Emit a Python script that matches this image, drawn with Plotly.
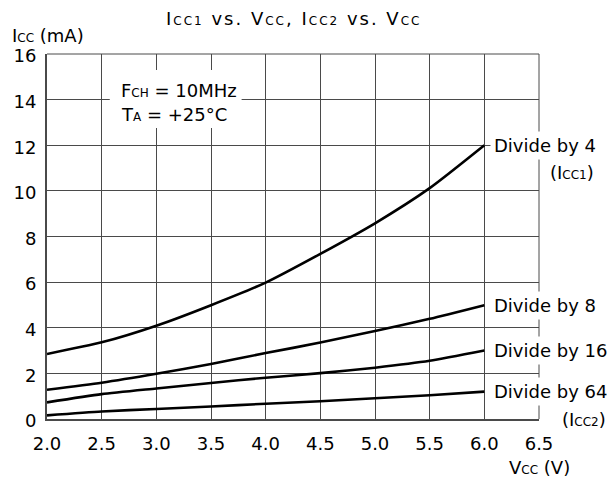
import plotly.graph_objects as go

# Data
vcc = [2.0, 2.5, 3.0, 3.5, 4.0, 4.5, 5.0, 5.5, 6.0]
div4 = [2.85, 3.36, 4.09, 4.99, 5.98, 7.24, 8.58, 10.12, 12.0]
div8 = [1.28, 1.59, 1.98, 2.41, 2.89, 3.35, 3.86, 4.39, 4.99]
div16 = [0.73, 1.09, 1.34, 1.58, 1.81, 2.01, 2.25, 2.55, 3.0]
div64 = [0.16, 0.33, 0.44, 0.55, 0.67, 0.78, 0.91, 1.04, 1.2]
series_labels = ["Divide by 4", "Divide by 8", "Divide by 16", "Divide by 64"]
x_ticks = [2.0, 2.5, 3.0, 3.5, 4.0, 4.5, 5.0, 5.5, 6.0, 6.5]
y_ticks = [0, 2, 4, 6, 8, 10, 12, 14, 16]

X0, X1 = 2.0, 6.5
Y0, Y1 = 0.0, 16.0

FONT = "'DejaVu Sans', Arial, sans-serif"
BIG = 18
SMALL = 12


def sm(t, extra=""):
    return f'<span style="font-size:{SMALL}px;{extra}">{t}</span>'


def ls(t, sp="2px"):
    return f'<span style="letter-spacing:{sp}">{t}</span>'


def px(v):  # data x -> paper x
    return (v - X0) / (X1 - X0)


def py(v):  # data y -> paper y
    return (v - Y0) / (Y1 - Y0)


fig = go.Figure()
for ys, name in zip([div4, div8, div16, div64], series_labels):
    fig.add_trace(go.Scatter(
        x=vcc, y=ys, mode="lines", name=name,
        line=dict(color="black", width=2.6, shape="spline", smoothing=0.6),
        showlegend=False, hoverinfo="skip"))

tf = dict(family=FONT, size=BIG, color="black")
annotations = []
for ys, name in zip([div4, div8, div16, div64], series_labels):
    annotations.append(dict(
        x=px(vcc[-1]), y=py(ys[-1]), xref="paper", yref="paper", text=name,
        showarrow=False, xanchor="left", yanchor="middle", xshift=6,
        bgcolor="white", borderpad=3, font=tf))

LSP = "letter-spacing:2px"
title_text = (ls("I") + sm("CC1", LSP) + ls(" vs. V") + sm("CC", LSP) + ls(", I")
              + sm("CC2", LSP) + ls(" vs. V") + sm("CC", LSP))

annotations += [
    dict(x=px(4.25), y=py(17.56), xref="paper", yref="paper",
         text=title_text,
         showarrow=False, xanchor="center", yanchor="middle", font=tf),
    dict(x=px(1.66), y=py(16.85), xref="paper", yref="paper",
         text="I" + sm("CC") + " (mA)", height=18, valign="middle",
         showarrow=False, xanchor="left", yanchor="middle", font=tf),
    dict(x=px(2.657), y=py(14.42), xref="paper", yref="paper",
         text="F" + sm("CH") + " = 10MHz",
         showarrow=False, xanchor="left", yanchor="middle", font=tf),
    dict(x=px(2.657), y=py(13.33), xref="paper", yref="paper",
         text="T" + sm("A") + " = +25°C",
         showarrow=False, xanchor="left", yanchor="middle", font=tf),
    dict(x=px(6.80), y=py(10.79), xref="paper", yref="paper",
         text="(I" + sm("CC1") + ")",
         showarrow=False, xanchor="center", yanchor="middle", font=tf),
    dict(x=px(6.91), y=py(-0.03), xref="paper", yref="paper",
         text="(I" + sm("CC2") + ")",
         showarrow=False, xanchor="center", yanchor="middle", font=tf),
    dict(x=px(6.506), y=py(-2.13), xref="paper", yref="paper",
         text="V" + sm("CC") + " (V)",
         showarrow=False, xanchor="center", yanchor="middle", font=tf),
]

shapes = [
    # white patch behind the condition text (covers gridlines)
    dict(type="rect", xref="x", yref="y", x0=2.574, x1=3.78, y0=12.76, y1=15.3,
         fillcolor="white", line=dict(width=0), layer="above"),
    # thin top / right border
    dict(type="line", xref="paper", yref="paper", x0=0, x1=1, y0=1, y1=1,
         line=dict(color="#4a4a4a", width=1), layer="below"),
    dict(type="line", xref="paper", yref="paper", x0=1, x1=1, y0=0, y1=1,
         line=dict(color="#4a4a4a", width=1), layer="below"),
]

# the page body adds an 8px margin; the figure is sized so the plot lands
# where the reference has it
fig.update_layout(
    width=607, height=475,
    margin=dict(l=39, r=76, t=46, b=64, pad=0),
    paper_bgcolor="white", plot_bgcolor="white",
    font=dict(family=FONT, size=BIG, color="black"),
    annotations=annotations, shapes=shapes,
    xaxis=dict(range=[X0, X1], tickvals=x_ticks,
               ticktext=[f"{v:.1f}" for v in x_ticks],
               showgrid=True, gridcolor="#4a4a4a", gridwidth=1,
               showline=True, linecolor="#4a4a4a", linewidth=2,
               zeroline=False, ticks="", ticklabelstandoff=7,
               automargin=False, tickfont=tf),
    yaxis=dict(range=[Y0, Y1], tickvals=y_ticks,
               showgrid=True, gridcolor="#4a4a4a", gridwidth=1,
               showline=True, linecolor="#4a4a4a", linewidth=2,
               zeroline=False, ticks="", ticklabelstandoff=5,
               ticklabelshift=2,
               automargin=False, tickfont=tf),
)

fig.write_html("out.html")
